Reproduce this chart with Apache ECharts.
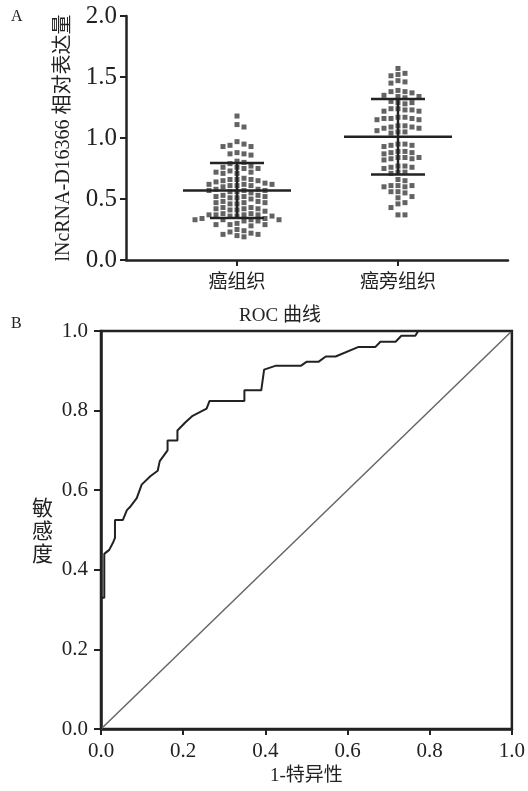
<!DOCTYPE html>
<html>
<head>
<meta charset="utf-8">
<script src="https://cdn.jsdelivr.net/npm/echarts@6/dist/echarts.min.js"></script>
<style>
  html, body { margin: 0; padding: 0; background: #fff; }
  #chart { width: 528px; height: 791px; }
</style>
</head>
<body>
<div id="chart"></div>
<script>
// panel A: relative expression per sample
const groups = ['癌组织', '癌旁组织']
const tumorValues = [
  1.18,
  1.11, 1.09,
  0.97, 0.95, 0.94, 0.93, 0.93,
  0.88, 0.87, 0.87, 0.86,
  0.81, 0.80, 0.79,
  0.77, 0.76, 0.76, 0.75, 0.75,
  0.73, 0.72, 0.72, 0.71, 0.71,
  0.67, 0.66, 0.66, 0.65, 0.65, 0.64, 0.66,
  0.63, 0.62, 0.62, 0.61, 0.61, 0.62, 0.60, 0.61,
  0.58, 0.57, 0.57, 0.56, 0.56, 0.57, 0.58, 0.55,
  0.53, 0.52, 0.52, 0.51, 0.51, 0.52, 0.53, 0.50,
  0.48, 0.47, 0.47, 0.46, 0.47, 0.48, 0.46,
  0.43, 0.42, 0.42, 0.41, 0.41, 0.42, 0.43, 0.40,
  0.38, 0.37, 0.37, 0.36, 0.36, 0.37, 0.38, 0.36, 0.37,
  0.34, 0.33, 0.33, 0.32, 0.33, 0.34, 0.32, 0.33,
  0.30, 0.29, 0.29, 0.28, 0.29,
  0.25, 0.24, 0.23,
  0.22, 0.21, 0.21, 0.20,
  0.19
]
const adjacentValues = [
  1.57,
  1.53, 1.52, 1.51,
  1.47, 1.46, 1.45,
  1.39, 1.38, 1.38, 1.37,
  1.35, 1.34, 1.34, 1.33,
  1.30, 1.29, 1.29, 1.28,
  1.24, 1.23, 1.23, 1.22, 1.22, 1.24,
  1.17, 1.16, 1.16, 1.15, 1.15, 1.17, 1.16,
  1.10, 1.09, 1.09, 1.08, 1.08, 1.10,
  1.06, 1.05, 1.05, 1.04,
  0.95, 0.94, 0.94, 0.93, 0.95,
  0.89, 0.88, 0.88, 0.87, 0.89,
  0.84, 0.83, 0.83, 0.84, 0.82, 0.84,
  0.77, 0.76, 0.76, 0.75, 0.77,
  0.72, 0.72, 0.71,
  0.66, 0.65,
  0.61, 0.61, 0.60, 0.60, 0.61,
  0.56, 0.55, 0.56,
  0.52, 0.51,
  0.47, 0.46,
  0.43,
  0.37, 0.37
]
const groupMean = [0.57, 1.01]
const groupSD = [0.225, 0.31]

// panel B: ROC curve
const rocFpr = [0, 0, 0.008, 0.008, 0.02, 0.03, 0.034, 0.034, 0.053, 0.063, 0.07, 0.087, 0.099, 0.12, 0.138, 0.143, 0.162, 0.162, 0.186, 0.186, 0.205, 0.223, 0.257, 0.264, 0.349, 0.349, 0.39, 0.397, 0.426, 0.487, 0.501, 0.53, 0.547, 0.571, 0.627, 0.668, 0.68, 0.717, 0.731, 0.765, 0.772, 1]
const rocTpr = [0, 0.33, 0.33, 0.44, 0.45, 0.47, 0.48, 0.525, 0.525, 0.55, 0.557, 0.58, 0.614, 0.635, 0.649, 0.673, 0.70, 0.725, 0.725, 0.75, 0.77, 0.787, 0.805, 0.824, 0.824, 0.851, 0.851, 0.903, 0.913, 0.913, 0.923, 0.923, 0.936, 0.936, 0.96, 0.96, 0.973, 0.973, 0.988, 0.988, 1, 1]
const diagonal = [[0, 0], [1, 1]]

const serif = "'Liberation Serif', 'Noto Sans CJK SC', serif"
const cjk = "'Noto Sans CJK SC', sans-serif"
const ink = '#222'

// layout of panel A
const W = 528
const gridA = { left: 126, right: 20, top: 16, height: 244 }
const gridAWidth = W - gridA.left - gridA.right
const groupX = [29.06, 71.2] // where the two groups sit on the 0..100 x scale
const pxPerX = gridAWidth / 100
const pxPerY = gridA.height / 2

// simple beeswarm: push each dot sideways until it does not overlap
const swarm = (vals, center) => {
  const placed = []
  const sorted = vals.slice().sort((a, b) => b - a)
  return sorted.map(v => {
    const py = v * pxPerY
    let off = 0
    for (let k = 0; k < 400; k++) {
      const cand = k === 0 ? 0 : (k % 2 ? 1 : -1) * Math.ceil(k / 2)
      const hit = placed.some(p => Math.abs(p[0] - cand) < 6.5 && Math.abs(p[1] - py) < 5.5)
      if (!hit) { off = cand; break }
    }
    placed.push([off, py])
    return [center + off / pxPerX, v]
  })
}

const errData = groups.map((g, i) => [groupX[i], groupMean[i], groupSD[i]])

const chart = echarts.init(document.getElementById('chart'))

chart.setOption({
  backgroundColor: '#fff',
  animation: false,
  title: {
    text: 'ROC 曲线',
    left: 275,
    top: 302,
    textAlign: 'center',
    textStyle: { fontFamily: serif, fontSize: 19, fontWeight: 'normal', color: ink }
  },
  graphic: [
    { type: 'text', left: 11, top: 9, style: { text: 'A', fontSize: 16, fontFamily: serif, fill: ink } },
    { type: 'text', left: 11, top: 316, style: { text: 'B', fontSize: 16, fontFamily: serif, fill: ink } }
  ],
  grid: [
    { left: gridA.left, right: gridA.right, top: gridA.top, height: gridA.height },
    { left: 101, right: 14, top: 331, bottom: 56, show: true, borderColor: ink, borderWidth: 2.5, backgroundColor: 'transparent' }
  ],
  xAxis: [
    {
      gridIndex: 0,
      type: 'value',
      min: 0,
      max: 100,
      splitLine: { show: false },
      axisLine: { show: true, lineStyle: { color: ink, width: 2.5 } },
      axisTick: { show: true, length: 6, customValues: groupX, lineStyle: { color: ink, width: 2 } },
      axisLabel: {
        customValues: groupX,
        margin: 11,
        color: ink,
        fontFamily: cjk,
        fontSize: 19,
        formatter: (v) => groups[groupX.indexOf(v)] || ''
      }
    },
    {
      gridIndex: 1,
      type: 'value',
      min: 0,
      max: 1,
      interval: 0.2,
      name: '1-特异性',
      nameLocation: 'middle',
      nameGap: 38,
      nameTextStyle: { fontFamily: serif, fontSize: 19, color: ink },
      splitLine: { show: false },
      axisLine: { show: true, lineStyle: { color: ink, width: 2.5 } },
      axisTick: { show: true, length: 6, lineStyle: { color: ink, width: 2 } },
      axisLabel: { margin: 12, color: ink, fontFamily: serif, fontSize: 21, formatter: (v) => v.toFixed(1) }
    }
  ],
  yAxis: [
    {
      gridIndex: 0,
      type: 'value',
      min: 0,
      max: 2,
      interval: 0.5,
      name: 'lNcRNA-D16366 相对表达量',
      nameLocation: 'middle',
      nameGap: 52,
      nameTextStyle: { fontFamily: serif, fontSize: 20, color: ink },
      splitLine: { show: false },
      axisLine: { show: true, lineStyle: { color: ink, width: 2.5 } },
      axisTick: { show: true, length: 6, lineStyle: { color: ink, width: 2 } },
      axisLabel: { margin: 9, color: ink, fontFamily: serif, fontSize: 25, formatter: (v) => v.toFixed(1) }
    },
    {
      gridIndex: 1,
      type: 'value',
      min: 0,
      max: 1,
      interval: 0.2,
      name: '敏\n感\n度',
      nameLocation: 'middle',
      nameRotate: 0,
      nameGap: 48,
      nameTextStyle: { fontFamily: cjk, fontSize: 21, lineHeight: 23, color: ink },
      splitLine: { show: false },
      axisLine: { show: true, lineStyle: { color: ink, width: 2.5 } },
      axisTick: { show: true, length: 7, lineStyle: { color: ink, width: 2 } },
      axisLabel: { margin: 13, color: ink, fontFamily: serif, fontSize: 21, formatter: (v) => v.toFixed(1) }
    }
  ],
  series: [
    {
      name: groups[0],
      type: 'scatter',
      xAxisIndex: 0,
      yAxisIndex: 0,
      symbol: 'rect',
      symbolSize: 5,
      itemStyle: { color: '#3c3c3c' },
      data: swarm(tumorValues, groupX[0])
    },
    {
      name: groups[1],
      type: 'scatter',
      xAxisIndex: 0,
      yAxisIndex: 0,
      symbol: 'rect',
      symbolSize: 5,
      itemStyle: { color: '#3c3c3c' },
      data: swarm(adjacentValues, groupX[1])
    },
    {
      name: 'mean±SD',
      type: 'custom',
      xAxisIndex: 0,
      yAxisIndex: 0,
      z: 5,
      renderItem: (params, api) => {
        const x = api.value(0)
        const m = api.value(1)
        const s = api.value(2)
        const c = api.coord([x, m])
        const hi = api.coord([x, m + s])
        const lo = api.coord([x, m - s])
        const style = { stroke: ink, lineWidth: 2.5 }
        return {
          type: 'group',
          children: [
            { type: 'line', shape: { x1: c[0] - 54, y1: c[1], x2: c[0] + 54, y2: c[1] }, style },
            { type: 'line', shape: { x1: c[0], y1: hi[1], x2: c[0], y2: lo[1] }, style },
            { type: 'line', shape: { x1: c[0] - 27, y1: hi[1], x2: c[0] + 27, y2: hi[1] }, style },
            { type: 'line', shape: { x1: c[0] - 27, y1: lo[1], x2: c[0] + 27, y2: lo[1] }, style }
          ]
        }
      },
      data: errData
    },
    {
      name: 'diagonal',
      type: 'line',
      xAxisIndex: 1,
      yAxisIndex: 1,
      symbol: 'none',
      lineStyle: { color: '#666', width: 1.5 },
      data: diagonal
    },
    {
      name: 'ROC',
      type: 'line',
      xAxisIndex: 1,
      yAxisIndex: 1,
      symbol: 'none',
      lineStyle: { color: ink, width: 2 },
      data: rocFpr.map((f, i) => [f, rocTpr[i]])
    }
  ]
})
</script>
</body>
</html>
